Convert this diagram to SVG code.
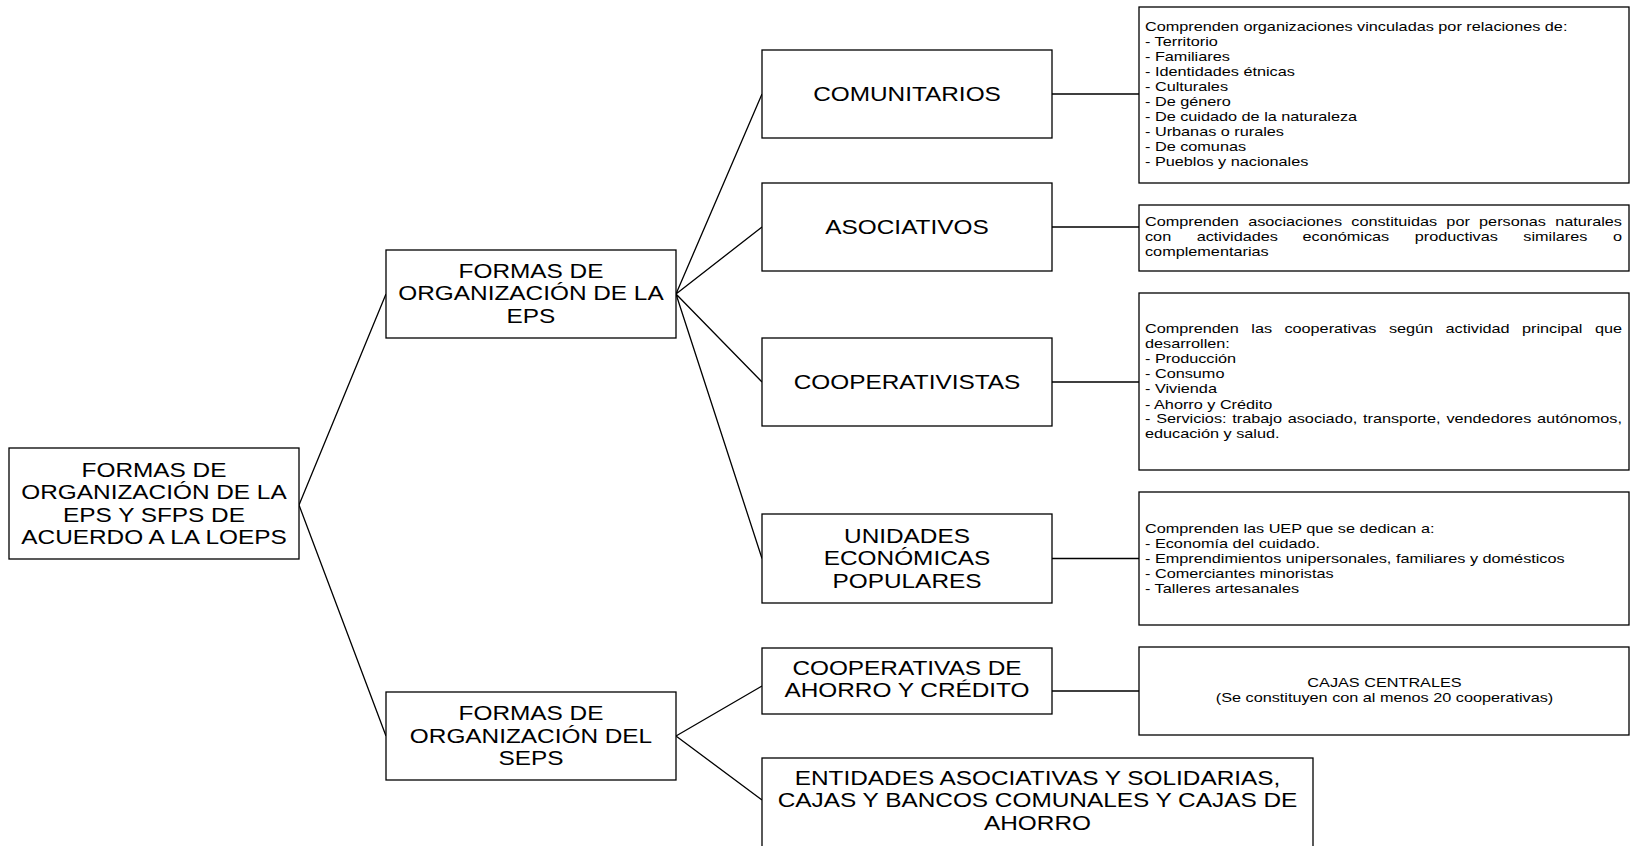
<svg xmlns="http://www.w3.org/2000/svg" width="1631" height="846" viewBox="0 0 1631 846">
<style>
.box{fill:#fff;stroke:#000;stroke-width:1.3}
.n{font-family:"Liberation Sans",Arial,sans-serif;font-size:19.5px;text-anchor:middle;fill:#000}
.d{font-family:"Liberation Sans",Arial,sans-serif;font-size:13px;fill:#000}
.dc{font-family:"Liberation Sans",Arial,sans-serif;font-size:13px;fill:#000;text-anchor:middle}
.c{stroke:#000;stroke-width:1.3;fill:none}
</style>
<rect width="1631" height="846" fill="#fff"/>
<g id="connectors">
<path class="c" d="M299,505 L386,294 M299,505 L386,736"/>
<path class="c" d="M676,294 L762,94 M676,294 L762,227 M676,294 L762,382 M676,294 L762,558.5"/>
<path class="c" d="M676,736 L762,686 M676,736 L762,800"/>
<path class="c" d="M1052,94 L1139,94 M1052,227 L1139,227 M1052,382 L1139,382 M1052,558.5 L1139,558.5 M1052,691 L1139,691"/>
</g>
<g id="root">
<rect class="box" x="9" y="448" width="290" height="111"/>
<text class="n" transform="translate(154,0) scale(1.25,1)"><tspan x="0" y="477">FORMAS DE</tspan><tspan x="0" y="499.5">ORGANIZACIÓN DE LA</tspan><tspan x="0" y="522">EPS Y SFPS DE</tspan><tspan x="0" y="544.5">ACUERDO A LA LOEPS</tspan></text>
</g>
<g id="eps">
<rect class="box" x="386" y="250" width="290" height="88"/>
<text class="n" transform="translate(531,0) scale(1.25,1)"><tspan x="0" y="278">FORMAS DE</tspan><tspan x="0" y="300.5">ORGANIZACIÓN DE LA</tspan><tspan x="0" y="323">EPS</tspan></text>
</g>
<g id="seps">
<rect class="box" x="386" y="692" width="290" height="88"/>
<text class="n" transform="translate(531,0) scale(1.25,1)"><tspan x="0" y="720.5">FORMAS DE</tspan><tspan x="0" y="743">ORGANIZACIÓN DEL</tspan><tspan x="0" y="765.5">SEPS</tspan></text>
</g>
<g id="comunitarios">
<rect class="box" x="762" y="50" width="290" height="88"/>
<text class="n" transform="translate(907,0) scale(1.25,1)"><tspan x="0" y="101">COMUNITARIOS</tspan></text>
</g>
<g id="asociativos">
<rect class="box" x="762" y="183" width="290" height="88"/>
<text class="n" transform="translate(907,0) scale(1.25,1)"><tspan x="0" y="234">ASOCIATIVOS</tspan></text>
</g>
<g id="cooperativistas">
<rect class="box" x="762" y="338" width="290" height="88"/>
<text class="n" transform="translate(907,0) scale(1.25,1)"><tspan x="0" y="389">COOPERATIVISTAS</tspan></text>
</g>
<g id="uep">
<rect class="box" x="762" y="514" width="290" height="89"/>
<text class="n" transform="translate(907,0) scale(1.25,1)"><tspan x="0" y="543">UNIDADES</tspan><tspan x="0" y="565.5">ECONÓMICAS</tspan><tspan x="0" y="588">POPULARES</tspan></text>
</g>
<g id="coop-ahorro">
<rect class="box" x="762" y="648" width="290" height="66"/>
<text class="n" transform="translate(907,0) scale(1.25,1)"><tspan x="0" y="675">COOPERATIVAS DE</tspan><tspan x="0" y="697.5">AHORRO Y CRÉDITO</tspan></text>
</g>
<g id="entidades">
<rect class="box" x="762" y="758" width="551" height="100"/>
<text class="n" transform="translate(1037.5,0) scale(1.25,1)"><tspan x="0" y="785">ENTIDADES ASOCIATIVAS Y SOLIDARIAS,</tspan><tspan x="0" y="807.5">CAJAS Y BANCOS COMUNALES Y CAJAS DE</tspan><tspan x="0" y="830">AHORRO</tspan></text>
</g>
<g id="det-comunitarios">
<rect class="box" x="1139" y="7" width="490" height="176"/>
<text class="d" transform="translate(1145,0) scale(1.25,1)"><tspan x="0" y="31.5">Comprenden organizaciones vinculadas por relaciones de:</tspan><tspan x="0" y="46.5">- Territorio</tspan><tspan x="0" y="61.5">- Familiares</tspan><tspan x="0" y="76.5">- Identidades étnicas</tspan><tspan x="0" y="91.5">- Culturales</tspan><tspan x="0" y="106.5">- De género</tspan><tspan x="0" y="121.5">- De cuidado de la naturaleza</tspan><tspan x="0" y="136.5">- Urbanas o rurales</tspan><tspan x="0" y="151.5">- De comunas</tspan><tspan x="0" y="166.5">- Pueblos y nacionales</tspan></text>
</g>
<g id="det-asociativos">
<rect class="box" x="1139" y="205" width="490" height="66"/>
<text class="d" transform="translate(1145,0) scale(1.25,1)"><tspan x="0" y="226">Comprenden</tspan><tspan x="82.53" y="226">asociaciones</tspan><tspan x="165.06" y="226">constituidas</tspan><tspan x="241.09" y="226">por</tspan><tspan x="267.27" y="226">personas</tspan><tspan x="328.13" y="226">naturales</tspan><tspan x="0" y="241">con</tspan><tspan x="41.36" y="241">actividades</tspan><tspan x="126.06" y="241">económicas</tspan><tspan x="215.82" y="241">productivas</tspan><tspan x="302.69" y="241">similares</tspan><tspan x="374.37" y="241">o</tspan><tspan x="0" y="256">complementarias</tspan></text>
</g>
<g id="det-cooperativistas">
<rect class="box" x="1139" y="293" width="490" height="177"/>
<text class="d" transform="translate(1145,0) scale(1.25,1)"><tspan x="0" y="333.5">Comprenden</tspan><tspan x="85.03" y="333.5">las</tspan><tspan x="111.53" y="333.5">cooperativas</tspan><tspan x="195.12" y="333.5">según</tspan><tspan x="240.42" y="333.5">actividad</tspan><tspan x="301.61" y="333.5">principal</tspan><tspan x="359.92" y="333.5">que</tspan><tspan x="0" y="348.5">desarrollen:</tspan><tspan x="0" y="363.5">- Producción</tspan><tspan x="0" y="378.5">- Consumo</tspan><tspan x="0" y="393.5">- Vivienda</tspan><tspan x="0" y="408.5">- Ahorro y Crédito</tspan><tspan x="0" y="423.5">-</tspan><tspan x="8.92" y="423.5">Servicios:</tspan><tspan x="69.85" y="423.5">trabajo</tspan><tspan x="114.18" y="423.5">asociado,</tspan><tspan x="174.41" y="423.5">transporte,</tspan><tspan x="241.14" y="423.5">vendedores</tspan><tspan x="313.67" y="423.5">autónomos,</tspan><tspan x="0" y="438.5">educación y salud.</tspan></text>
</g>
<g id="det-uep">
<rect class="box" x="1139" y="492" width="490" height="133"/>
<text class="d" transform="translate(1145,0) scale(1.25,1)"><tspan x="0" y="533">Comprenden las UEP que se dedican a:</tspan><tspan x="0" y="548">- Economía del cuidado.</tspan><tspan x="0" y="563">- Emprendimientos unipersonales, familiares y domésticos</tspan><tspan x="0" y="578">- Comerciantes minoristas</tspan><tspan x="0" y="593">- Talleres artesanales</tspan></text>
</g>
<g id="det-cajas">
<rect class="box" x="1139" y="647" width="490" height="88"/>
<text class="dc" transform="translate(1384.5,0) scale(1.25,1)"><tspan x="0" y="687">CAJAS CENTRALES</tspan><tspan x="0" y="702">(Se constituyen con al menos 20 cooperativas)</tspan></text>
</g>
</svg>
